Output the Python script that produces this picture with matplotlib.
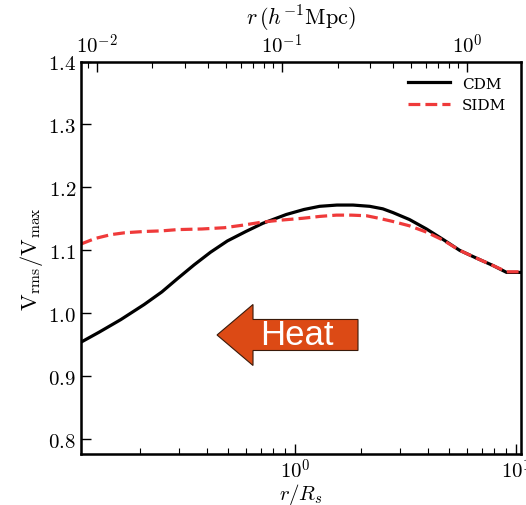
import math
import matplotlib
matplotlib.use("Agg")
import matplotlib.pyplot as plt
from matplotlib.patches import FancyArrow
from matplotlib.ticker import FuncFormatter, LogLocator, NullFormatter

plt.rcParams['mathtext.fontset'] = 'cm'
plt.rcParams['font.family'] = 'serif'
plt.rcParams['font.serif'] = ['DejaVu Serif']

# --- dane ---
r_cdm = [0.1075, 0.13, 0.163, 0.208, 0.25, 0.294, 0.35, 0.415, 0.495, 0.6,
         0.716, 0.914, 1.1, 1.294, 1.55, 1.832, 2.18, 2.5, 2.78, 3.3, 3.94,
         4.7, 5.57, 6.6, 7.87, 9.08, 10.6]
v_cdm = [0.954, 0.970, 0.990, 1.014, 1.034, 1.055, 1.077, 1.097, 1.115, 1.130,
         1.143, 1.157, 1.165, 1.170, 1.172, 1.172, 1.170, 1.166, 1.160, 1.149, 1.134,
         1.117, 1.100, 1.088, 1.076, 1.065, 1.065]

r_sidm = [0.1075, 0.125, 0.147, 0.17, 0.208, 0.25, 0.294, 0.38, 0.479, 0.58,
          0.714, 0.86, 1.084, 1.3, 1.54, 1.8, 2.11, 2.4, 2.77, 3.3, 3.94,
          4.7, 5.57, 6.6, 7.87, 9.08, 10.6]
v_sidm = [1.110, 1.119, 1.125, 1.128, 1.130, 1.131, 1.133, 1.134, 1.136, 1.140,
          1.145, 1.148, 1.151, 1.154, 1.156, 1.156, 1.155, 1.151, 1.146, 1.139, 1.129,
          1.116, 1.100, 1.088, 1.076, 1.066, 1.066]

y_ticks = [0.8, 0.9, 1.0, 1.1, 1.2, 1.3, 1.4]


def log_label(v, p):
    return r'$10^{%d}$' % round(math.log10(v))


fig = plt.figure(figsize=(5.26, 5.06), dpi=100)
ax = fig.add_axes([0.154, 0.1014, 0.8374, 0.775])

ax.plot(r_cdm, v_cdm, color='black', lw=2.3, label='CDM')
ax.plot(r_sidm, v_sidm, color='#ef3a3a', lw=2.3, ls='--', label='SIDM')

ax.set_xscale('log')
ax.set_xlim(0.1077, 10.6)
ax.set_ylim(0.777, 1.4)
ax.set_yticks(y_ticks)
ax.yaxis.set_major_formatter(FuncFormatter(lambda v, p: r'$%.1f$' % v))
ax.xaxis.set_major_formatter(FuncFormatter(log_label))
ax.xaxis.set_minor_formatter(NullFormatter())
ax.tick_params(which='both', direction='in', labelsize=15, top=False, right=False)
ax.tick_params(which='major', length=7, width=1)
ax.tick_params(which='minor', length=4, width=0.8)
ax.tick_params(axis='x', pad=3)
for s in ax.spines.values():
    s.set_linewidth(1.8)

ax.set_xlabel(r'$r/R_s$', fontsize=15, labelpad=-1)
ax.set_ylabel(r'$\mathrm{V_{rms}/V_{max}}$', fontsize=16, labelpad=2)

# --- gorna os: r w h^-1 Mpc ---
ax2 = ax.twiny()
ax2.set_xscale('log')
ax2.set_xlim(0.00824, 1.97)
ax2.xaxis.set_major_locator(LogLocator(base=10))
ax2.xaxis.set_major_formatter(FuncFormatter(log_label))
ax2.xaxis.set_minor_formatter(NullFormatter())
ax2.tick_params(which='both', direction='in', labelsize=15)
ax2.tick_params(which='major', length=7, width=1)
ax2.tick_params(which='minor', length=4, width=0.8)
ax2.set_xlabel(r'$r\,(h^{-1}\mathrm{Mpc})$', fontsize=16, labelpad=6)

ax.legend(loc='upper right', frameon=False, handlelength=2.7,
          borderaxespad=0.6, labelspacing=0.5,
          prop={'family': 'serif', 'size': 11})

# --- strzalka "Heat" ---
arrow = FancyArrow(0.6806, 0.336, -0.268, 0, width=0.0613, head_width=0.1206,
                   head_length=0.0684, length_includes_head=True,
                   transform=fig.transFigure, fc='#dc4a15', ec='#3a1a0a', lw=0.8)
fig.add_artist(arrow)
fig.text(0.5637, 0.336, 'Heat', family='Liberation Sans', fontsize=25,
         color='white', ha='center', va='center')

fig.savefig('out.png', dpi=100)
